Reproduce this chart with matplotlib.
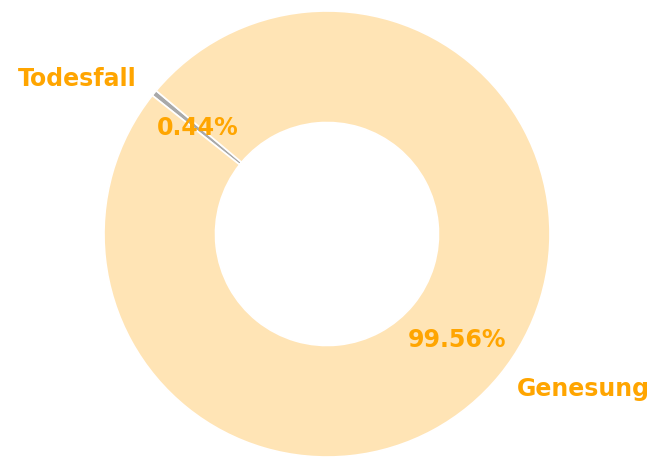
import matplotlib.pyplot as plt

labels = ["Todesfall", "Genesung"]
values = [0.44, 99.56]
colors = ["darkgray", "moccasin"]

fig = plt.figure(figsize=(6.56, 4.58), dpi=100)
ax = fig.add_axes([104 / 656, 1 / 458, 446 / 656, 446 / 458])

wedges, texts, autotexts = ax.pie(
    values,
    labels=labels,
    colors=colors,
    startangle=140,
    autopct="%1.2f%%",
    pctdistance=0.75,
    labeldistance=1.1,
    wedgeprops=dict(width=0.5, edgecolor="white", linewidth=1.2),
    radius=1.0,
)
for t in texts + autotexts:
    t.set_color("orange")
    t.set_fontsize(17)
    t.set_fontweight("bold")

ax.set_xlim(-1, 1)
ax.set_ylim(-1, 1)
ax.set_aspect("equal")
ax.axis("off")

fig.savefig("out.png", dpi=100)
